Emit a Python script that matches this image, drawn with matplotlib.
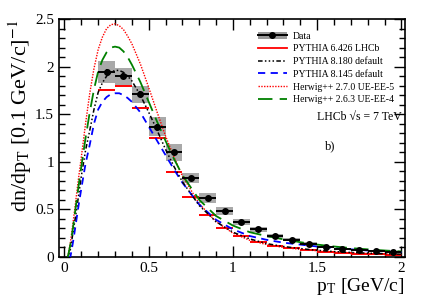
import numpy as np
import matplotlib
matplotlib.use("Agg")
import matplotlib.pyplot as plt
from matplotlib.patches import Rectangle
from matplotlib.lines import Line2D
from matplotlib.ticker import MultipleLocator

plt.rcParams['font.family'] = ['Liberation Serif', 'DejaVu Serif']
plt.rcParams['mathtext.fontset'] = 'stix'

# measured data, 0.1 GeV/c bins from 0.2 to 2.0
bin_lo = [0.2, 0.3, 0.4, 0.5, 0.6, 0.7, 0.8, 0.9, 1.0, 1.1, 1.2, 1.3, 1.4, 1.5, 1.6, 1.7, 1.8, 1.9]
data_val = [1.94, 1.90, 1.71, 1.37, 1.10, 0.83, 0.62, 0.48, 0.37, 0.29, 0.22, 0.18, 0.14, 0.105,
            0.085, 0.075, 0.063, 0.053]
data_stat = [0.03, 0.03, 0.03, 0.03, 0.02, 0.02, 0.02, 0.015, 0.01, 0.01, 0.01, 0.01, 0.01, 0.005,
             0.005, 0.005, 0.005, 0.005]
data_sys = [0.115, 0.09, 0.09, 0.10, 0.09, 0.055, 0.05, 0.04, 0.03, 0.03, 0.02, 0.016, 0.013, 0.01,
            0.008, 0.007, 0.006, 0.005]

# PYTHIA 6.426 LHCb histogram
py6_val = [1.75, 1.80, 1.57, 1.25, 0.89, 0.63, 0.44, 0.30, 0.22, 0.16, 0.115, 0.095, 0.075, 0.055,
           0.045, 0.035, 0.03, 0.025]

# smooth generator curves
pt_grid = [0.02, 0.035, 0.05, 0.065, 0.08, 0.1, 0.125, 0.15, 0.175, 0.2, 0.225, 0.25, 0.275, 0.3,
           0.325, 0.35, 0.375, 0.4, 0.45, 0.5, 0.55, 0.6, 0.65, 0.7, 0.8, 0.9, 1.0, 1.1, 1.2, 1.3,
           1.4, 1.5, 1.6, 1.7, 1.8, 1.9, 2.0]
py8180 = [0.0, 0.08, 0.25, 0.42, 0.6, 0.85, 1.12, 1.33, 1.55, 1.73, 1.83, 1.90, 1.94, 1.96,
          1.96, 1.94, 1.90, 1.85, 1.70, 1.52, 1.33, 1.13, 0.95, 0.79, 0.54, 0.37, 0.26, 0.19, 0.14,
          0.11, 0.088, 0.07, 0.057, 0.047, 0.04, 0.034, 0.029]
py8145 = [0.0, 0.0, 0.15, 0.32, 0.5, 0.72, 0.98, 1.18, 1.40, 1.55, 1.63, 1.68, 1.71, 1.72,
          1.72, 1.70, 1.67, 1.63, 1.52, 1.37, 1.22, 1.07, 0.92, 0.78, 0.55, 0.39, 0.29, 0.22, 0.18,
          0.15, 0.13, 0.11, 0.095, 0.08, 0.068, 0.058, 0.05]
hw270 = [0.0, 0.15, 0.35, 0.56, 0.78, 1.05, 1.40, 1.72, 1.98, 2.18, 2.31, 2.40, 2.44, 2.45,
         2.43, 2.39, 2.32, 2.24, 2.03, 1.78, 1.52, 1.27, 1.05, 0.85, 0.56, 0.37, 0.25, 0.175, 0.13,
         0.10, 0.08, 0.065, 0.052, 0.043, 0.036, 0.03, 0.025]
hw263 = [0.0, 0.13, 0.30, 0.50, 0.70, 0.95, 1.25, 1.52, 1.76, 1.95, 2.07, 2.15, 2.20, 2.21,
         2.20, 2.16, 2.10, 2.02, 1.84, 1.63, 1.42, 1.22, 1.03, 0.86, 0.60, 0.43, 0.33, 0.26, 0.22,
         0.185, 0.155, 0.13, 0.11, 0.093, 0.08, 0.068, 0.058]

bw = 0.1
x_lo = np.array(bin_lo)
x_c = x_lo + bw / 2

fig = plt.figure(figsize=(4.27, 3.07), dpi=100)
ax = fig.add_axes([0.138, 0.163, 0.810, 0.775])

# systematic boxes
for xl, v, s in zip(x_lo, data_val, data_sys):
    ax.add_patch(Rectangle((xl, v - s), bw, 2 * s, facecolor='#9a9a9a', edgecolor='none',
                           alpha=0.85, zorder=2))

# PYTHIA 6 histogram segments
ax.hlines(py6_val, x_lo, x_lo + bw, colors='red', linewidth=1.4, zorder=3)

ax.plot(pt_grid, hw270, color='red', linestyle=(0, (1, 1)), linewidth=1.0, zorder=4)
ax.plot(pt_grid, py8145, color='blue', linestyle=(0, (4, 3)), linewidth=1.3, zorder=4)
ax.plot(pt_grid, py8180, color='black', linestyle=(0, (3, 1.5, 1, 1.5, 1, 1.5, 1, 1.5)),
        linewidth=1.1, zorder=4)
ax.plot(pt_grid, hw263, color='green', linestyle=(0, (8, 4)), linewidth=1.3, zorder=4)

ax.errorbar(x_c, data_val, xerr=bw / 2, yerr=data_stat, fmt='o', color='black', markersize=4,
            elinewidth=1.4, capsize=0, zorder=5)

ax.set_xlim(-0.033, 2.02)
ax.set_ylim(0, 2.5)
ax.xaxis.set_major_locator(MultipleLocator(0.5))
ax.xaxis.set_minor_locator(MultipleLocator(0.1))
ax.yaxis.set_major_locator(MultipleLocator(0.5))
ax.yaxis.set_minor_locator(MultipleLocator(0.1))
ax.tick_params(which='both', direction='in', top=True, right=True, labelsize=11, width=1)
ax.tick_params(which='major', length=8)
ax.tick_params(which='minor', length=4)
ax.set_xticks([0, 0.5, 1, 1.5, 2])
ax.set_xticklabels(['0', '0.5', '1', '1.5', '2'])
ax.set_yticks([0, 0.5, 1, 1.5, 2, 2.5])
ax.set_yticklabels(['0', '0.5', '1', '1.5', '2', '2.5'])
for sp in ax.spines.values():
    sp.set_linewidth(1.2)

ax.set_xlabel(r'p$_\mathregular{T}$ [GeV/c]', fontsize=14, loc='right', labelpad=1)
ax.set_ylabel(r'dn/dp$_\mathregular{T}$ [0.1 GeV/c]$^{-1}$', fontsize=16, loc='top', labelpad=1)

data_handle = (Rectangle((0, 0), 1, 1, facecolor='#9a9a9a', edgecolor='none'),
               Line2D([], [], color='black', marker='o', markersize=4, linewidth=1.4))
handles = [data_handle,
           Line2D([], [], color='red', linewidth=1.3),
           Line2D([], [], color='black', linestyle=(0, (3, 1.5, 1, 1.5, 1, 1.5, 1, 1.5)), linewidth=1.1),
           Line2D([], [], color='blue', linestyle=(0, (4, 3)), linewidth=1.3),
           Line2D([], [], color='red', linestyle=(0, (1, 1)), linewidth=1.0),
           Line2D([], [], color='green', linestyle=(0, (8, 4)), linewidth=1.3)]
labels = ['Data', 'PYTHIA 6.426 LHCb', 'PYTHIA 8.180 default', 'PYTHIA 8.145 default',
          'Herwig++ 2.7.0 UE-EE-5', 'Herwig++ 2.6.3 UE-EE-4']
ax.legend(handles, labels, loc='upper left', bbox_to_anchor=(0.555, 0.975), frameon=False,
          fontsize=7, handlelength=3.0, handletextpad=0.6, labelspacing=0.38, borderpad=0.2)

ax.text(0.745, 0.59, 'LHCb \u221as = 7 TeV', transform=ax.transAxes, fontsize=8.5,
        ha='left', va='center')
ax.text(0.77, 0.465, 'b)', transform=ax.transAxes, fontsize=9, ha='left', va='center')

fig.savefig('out.png', dpi=100)
